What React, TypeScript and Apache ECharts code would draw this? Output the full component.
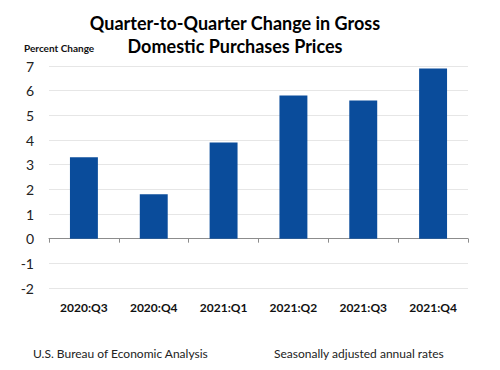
import React, { useEffect, useRef } from "react";
import * as echarts from "echarts";

const categories = ["2020:Q3", "2020:Q4", "2021:Q1", "2021:Q2", "2021:Q3", "2021:Q4"];
const values = [3.3, 1.8, 3.9, 5.8, 5.6, 6.9];
const titleLines = ["Quarter-to-Quarter Change in Gross", "Domestic Purchases Prices"];
const yAxisName = "Percent Change";
const sourceText = "U.S. Bureau of Economic Analysis";
const noteText = "Seasonally adjusted annual rates";

const FONT = "Lato, 'Noto Sans', sans-serif";

export default function App() {
  const ref = useRef<HTMLDivElement>(null);
  useEffect(() => {
    if (!ref.current) return;
    const chart = echarts.init(ref.current, undefined, { renderer: "svg" });
    chart.setOption({
      animation: false,
      backgroundColor: "#ffffff",
      textStyle: { fontFamily: FONT },
      title: [
        {
          text: titleLines.join("\n"),
          left: 230,
          top: 6,
          textAlign: "center",
          textStyle: { fontFamily: FONT, fontSize: 18, fontWeight: "bold", color: "#000", lineHeight: 23 },
        },
        {
          text: yAxisName,
          left: 19,
          top: 38,
          textStyle: { fontFamily: FONT, fontSize: 10, fontWeight: "bold", color: "#111" },
        },
        {
          text: sourceText,
          left: 28,
          top: 342,
          textStyle: { fontFamily: FONT, fontSize: 12, fontWeight: "normal", color: "#222" },
        },
        {
          text: noteText,
          left: 269,
          top: 342,
          textStyle: { fontFamily: FONT, fontSize: 12, fontWeight: "normal", color: "#222" },
        },
      ],
      grid: { left: 49, right: 32, top: 66, bottom: 82, containLabel: false },
      xAxis: [
        {
          type: "category",
          data: categories,
          position: "bottom",
          axisLine: { show: false, onZero: false },
          axisTick: { show: false },
          axisLabel: { fontFamily: FONT, fontSize: 12, fontWeight: "bold", color: "#111", margin: 13 },
        },
        {
          type: "category",
          data: categories,
          position: "bottom",
          axisLine: { show: true, onZero: true, lineStyle: { color: "#8c8c8c", width: 1 } },
          axisTick: { show: true, length: 4, alignWithLabel: false, lineStyle: { color: "#8c8c8c" } },
          axisLabel: { show: false },
        },
      ],
      yAxis: {
        type: "value",
        min: -2,
        max: 7,
        interval: 1,
        axisLine: { show: false },
        axisTick: { show: false },
        axisLabel: { fontFamily: FONT, fontSize: 14, color: "#222", margin: 15 },
        splitLine: { lineStyle: { color: "#e6e6e6", width: 1 } },
      },
      series: [
        {
          type: "bar",
          data: values,
          xAxisIndex: 0,
          barWidth: "40%",
          itemStyle: { color: "#0a4c9b" },
        },
      ],
    });
    return () => chart.dispose();
  }, []);
  return <div ref={ref} style={{ width: 500, height: 370, position: "absolute", left: 0, top: 0 }} />;
}
